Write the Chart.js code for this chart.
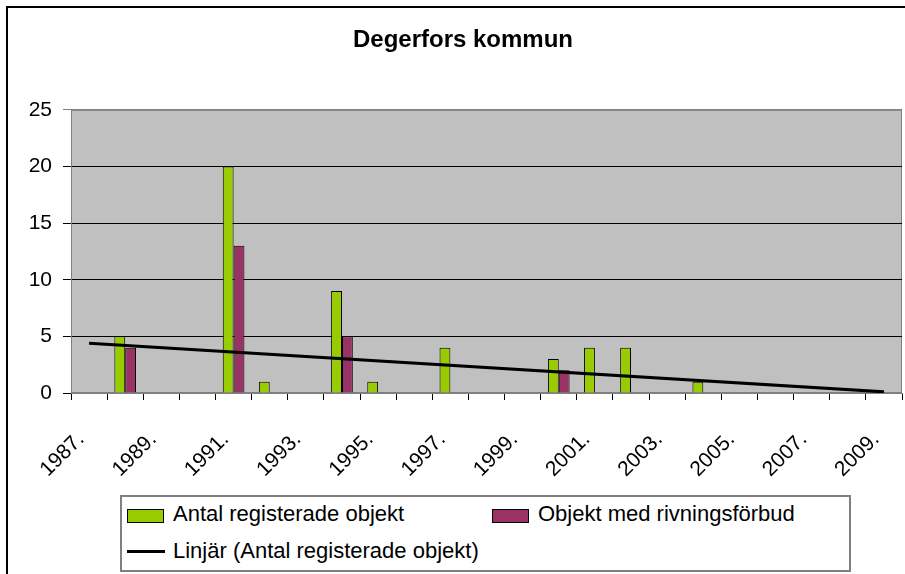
<!DOCTYPE html>
<html lang="sv">
<head>
    <meta charset="UTF-8">
    <title>Degerfors kommun</title>
    <script src="https://cdn.jsdelivr.net/npm/chart.js"></script>
    <style>
        html, body { margin: 0; padding: 0; background: #fff; overflow: hidden; }
        body { width: 905px; height: 574px; position: relative; font-family: "Liberation Sans", Arial, sans-serif; }
        /* yttre ramen runt diagrammet (fortsätter utanför bilden) */
        #ram { position: absolute; left: 6px; top: 6px; width: 1000px; height: 700px; border: 2px solid #000; }
        #chartWrap { position: absolute; left: 0; top: 0; width: 905px; height: 574px; }
        #legendBox { position: absolute; left: 120px; top: 495px; width: 731px; height: 77px; box-sizing: border-box;
                     border: 2px solid #808080; background: #fff; }
        .swatch { position: absolute; width: 37px; height: 14px; box-sizing: border-box; border: 1px solid #000; }
        .lineSwatch { position: absolute; width: 38px; height: 3px; background: #000; }
        .legText { position: absolute; font-size: 22px; line-height: 22px; color: #000; white-space: nowrap; }
    </style>
</head>
<body>
    <div id="ram"></div>
    <div id="chartWrap"><canvas id="chart" width="905" height="574"></canvas></div>
    <div id="legendBox"></div>
    <div id="legendItems"></div>

    <script>
        // Data
        const years = ['1987.', '1988.', '1989.', '1990.', '1991.', '1992.', '1993.', '1994.', '1995.', '1996.', '1997.', '1998.',
                       '1999.', '2000.', '2001.', '2002.', '2003.', '2004.', '2005.', '2006.', '2007.', '2008.', '2009.'];
        const antalRegisterade = [null, 5, null, null, 20, 1, null, 9, 1, null, 4, null,
                                  null, 3, 4, 4, null, 1, null, null, null, null, null];
        const rivningsforbud = [null, 4, null, null, 13, null, null, 5, null, null, null, null,
                                null, 2, null, null, null, null, null, null, null, null, null];
        // linjär trendlinje: start- och slutvärde avlästa
        const trendLinje = [4.4, null, null, null, null, null, null, null, null, null, null, null,
                            null, null, null, null, null, null, null, null, null, null, 0.1];
        const yTicks = [0, 5, 10, 15, 20, 25];

        const seriesNames = ['Antal registerade objekt', 'Objekt med rivningsförbud', 'Linjär (Antal registerade objekt)'];
        const green = '#99cc00';
        const purple = '#993366';
        const font = '"Liberation Sans", Arial, sans-serif';

        // grå bakgrund i ritytan
        const plotBg = {
            id: 'plotBg',
            beforeDraw(chart) {
                const { ctx, chartArea: a } = chart;
                ctx.save();
                ctx.fillStyle = '#c0c0c0';
                ctx.fillRect(a.left, a.top, a.width, a.height);
                ctx.strokeStyle = '#808080';
                ctx.lineWidth = 1;
                ctx.strokeRect(a.left + 0.5, a.top + 0.5, a.width - 1, a.height - 1);
                ctx.restore();
            }
        };

        const ctx = document.getElementById('chart').getContext('2d');
        const chart = new Chart(ctx, {
            type: 'bar',
            data: {
                labels: years,
                datasets: [
                    {
                        type: 'line',
                        label: seriesNames[2],
                        data: trendLinje,
                        borderColor: '#000',
                        borderWidth: 3,
                        pointRadius: 0,
                        spanGaps: true,
                        tension: 0,
                        fill: false,
                        order: 0
                    },
                    {
                        label: seriesNames[0],
                        data: antalRegisterade,
                        backgroundColor: green,
                        borderColor: '#000',
                        borderWidth: 1,
                        categoryPercentage: 0.6,
                        barPercentage: 1.0,
                        order: 1
                    },
                    {
                        label: seriesNames[1],
                        data: rivningsforbud,
                        backgroundColor: purple,
                        borderColor: '#000',
                        borderWidth: 1,
                        categoryPercentage: 0.6,
                        barPercentage: 1.0,
                        order: 1
                    }
                ]
            },
            options: {
                responsive: false,
                animation: false,
                layout: { padding: { left: 24, right: 3, top: 0, bottom: 0 } },
                plugins: {
                    legend: { display: false },
                    tooltip: { enabled: false },
                    title: {
                        display: true,
                        text: 'Degerfors kommun',
                        color: '#000',
                        font: { family: font, size: 24, weight: 'bold', lineHeight: 1.2 },
                        padding: { top: 26, bottom: 55 }
                    }
                },
                scales: {
                    x: {
                        afterFit: (scale) => {
                            scale.height = 181;
                            // etiketterna får inte krympa ritytan
                            scale.paddingLeft = 0;
                            scale.paddingRight = 0;
                        },
                        grid: { offset: true, drawOnChartArea: false, drawTicks: true, tickLength: 7, color: '#000' },
                        border: { color: '#808080' },
                        ticks: {
                            autoSkip: false,
                            maxRotation: 45,
                            minRotation: 45,
                            padding: 27,
                            labelOffset: -8,
                            color: '#000',
                            font: { family: font, size: 21 },
                            callback: function (value, index) {
                                return index % 2 === 0 ? this.getLabelForValue(value) : '';
                            }
                        }
                    },
                    y: {
                        min: yTicks[0],
                        max: yTicks[yTicks.length - 1],
                        afterFit: (scale) => { scale.width = 47; },
                        afterBuildTicks: (scale) => { scale.ticks = yTicks.map(v => ({ value: v })); },
                        grid: {
                            color: (c) => (c.tick && c.tick.value === 25 ? '#808080' : '#000'),
                            tickLength: 8,
                            lineWidth: 1
                        },
                        border: { color: '#808080' },
                        ticks: {
                            padding: 11,
                            color: '#000',
                            font: { family: font, size: 21 }
                        }
                    }
                }
            },
            plugins: [plotBg]
        });

        // HTML-förklaring i samma layout som originalet
        const legendItems = document.getElementById('legendItems');
        const legendRows = [
            { name: seriesNames[0], kind: 'box', color: green, x: 127, y: 509 },
            { name: seriesNames[1], kind: 'box', color: purple, x: 492, y: 509 },
            { name: seriesNames[2], kind: 'line', color: '#000', x: 127, y: 550 }
        ];
        legendRows.forEach(item => {
            const mark = document.createElement('div');
            if (item.kind === 'box') {
                mark.className = 'swatch';
                mark.style.background = item.color;
                mark.style.left = item.x + 'px';
                mark.style.top = item.y + 'px';
            } else {
                mark.className = 'lineSwatch';
                mark.style.left = item.x + 'px';
                mark.style.top = item.y + 'px';
            }
            legendItems.appendChild(mark);

            const text = document.createElement('div');
            text.className = 'legText';
            text.textContent = item.name;
            text.style.left = (item.x + 46) + 'px';
            text.style.top = (item.kind === 'box' ? item.y - 6 : item.y - 10) + 'px';
            legendItems.appendChild(text);
        });
    </script>
</body>
</html>
